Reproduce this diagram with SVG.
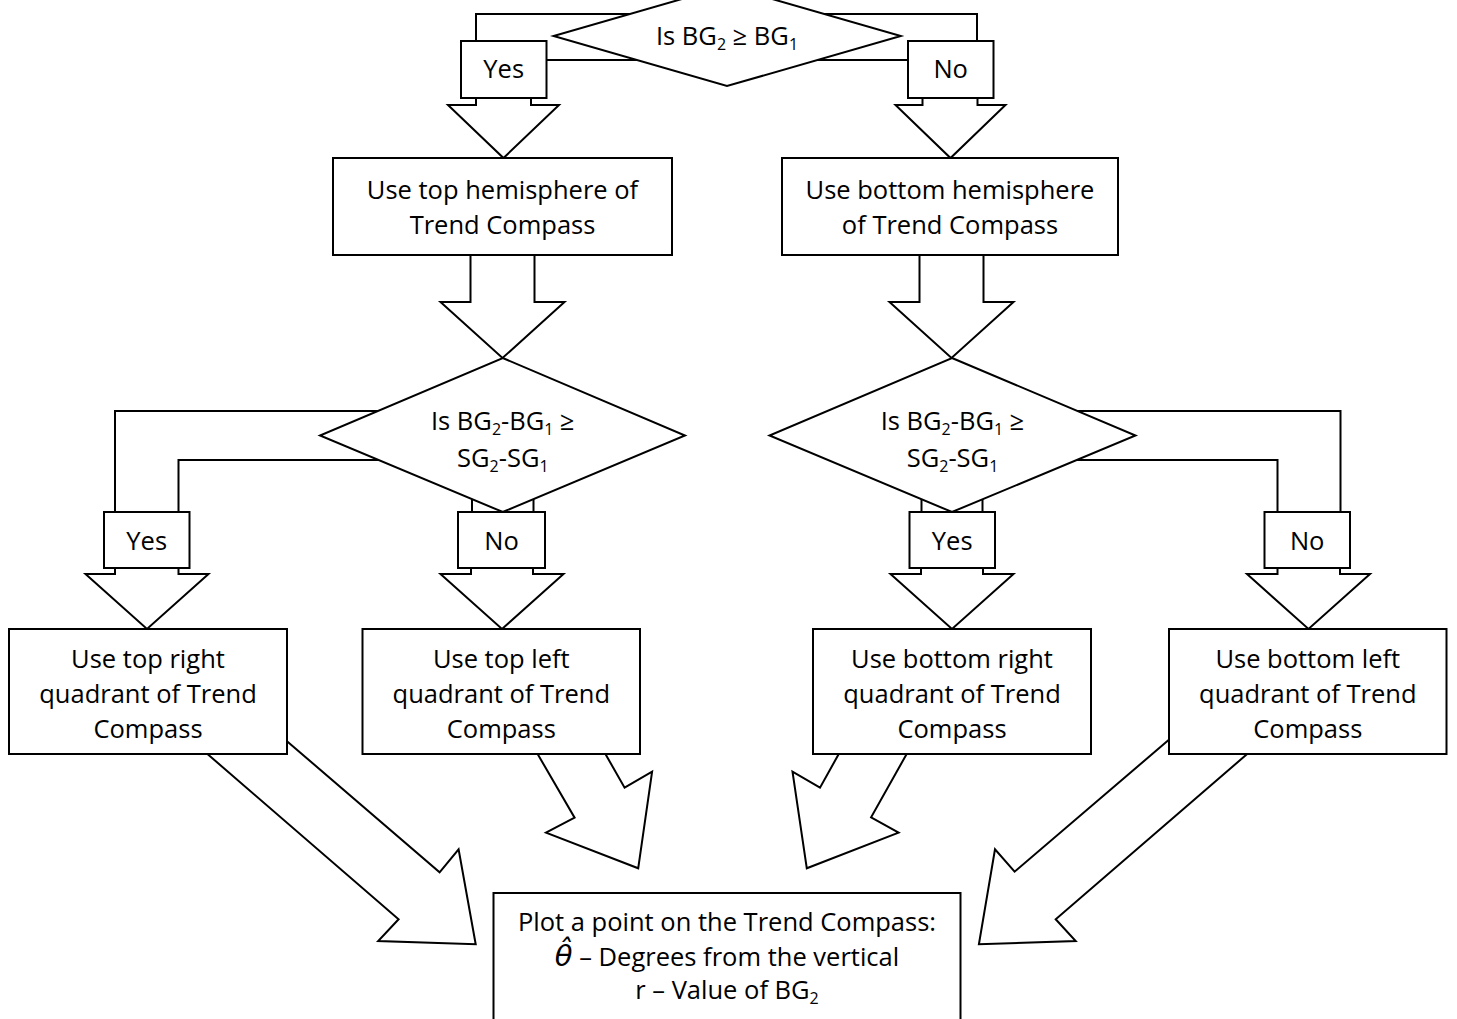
<svg xmlns="http://www.w3.org/2000/svg" width="1457" height="1019" viewBox="0 0 1457 1019">
<style>
.ln{fill:none;stroke:#000;stroke-width:2}
.ar{fill:#fff;stroke:#000;stroke-width:2;stroke-linejoin:miter}
.bx{fill:#fff;stroke:#000;stroke-width:2}
.t{font-family:'Open Sans','Liberation Sans',sans-serif;font-size:25.5px;fill:#000;text-anchor:middle}
.sub{font-size:16px}
.m{font-family:'DejaVu Sans','Liberation Serif',serif;font-style:italic;font-size:29px}
</style>
<rect width="1457" height="1019" fill="#fff"/>
<g id="connectors">
  <polyline class="ln" points="476,41 476,14 650,14"/>
  <line class="ln" x1="546.5" y1="60" x2="660" y2="60"/>
  <polyline class="ln" points="800,14 977,14 977,41"/>
  <line class="ln" x1="800" y1="60" x2="908" y2="60"/>
  <polygon class="ar" points="476,90 476,105 448,105 503.5,158 559,105 531,105 531,90"/>
  <polygon class="ar" points="922.5,90 922.5,105 895.5,105 950.5,158 1005.5,105 977.5,105 977.5,90"/>
  <polygon class="ar" points="470.5,250 470.5,302 440.5,302 502.5,358 564.5,302 534.5,302 534.5,250"/>
  <polygon class="ar" points="919.5,250 919.5,302 889.5,302 951.5,358 1013.5,302 983.5,302 983.5,250"/>
  <polyline class="ln" points="115,512 115,411 400,411"/>
  <polyline class="ln" points="178.5,512 178.5,460 400,460"/>
  <line class="ln" x1="472" y1="480" x2="472" y2="512"/>
  <line class="ln" x1="533.5" y1="480" x2="533.5" y2="512"/>
  <polygon class="ar" points="115,560 115,574 85.5,574 147,629 208.5,574 178.5,574 178.5,560"/>
  <polygon class="ar" points="471,560 471,574 440.5,574 502,629 563.5,574 533,574 533,560"/>
  <line class="ln" x1="921.5" y1="480" x2="921.5" y2="512"/>
  <line class="ln" x1="982.5" y1="480" x2="982.5" y2="512"/>
  <polyline class="ln" points="1050,411 1340.5,411 1340.5,512"/>
  <polyline class="ln" points="1050,460 1277.5,460 1277.5,512"/>
  <polygon class="ar" points="921,560 921,574 890.5,574 952,629 1013.5,574 983,574 983,560"/>
  <polygon class="ar" points="1277.5,560 1277.5,574 1247,574 1308.5,629 1370,574 1340,574 1340,560"/>
  <polygon class="ar" points="186,735.5 208.6,755 398.6,919.3 378.2,941 475.7,944.3 458.6,849.3 439.6,872.3 286.4,740.7 264,721"/>
  <polygon class="ar" points="528.2,737.7 538.2,755 574.6,817.7 546,832.7 638.2,868.3 652.1,771.7 624.6,787.7 606,755 596,737.7"/>
  <polygon class="ar" points="916,738 906.1,755 871.1,817.3 898.6,832.7 806.8,868.3 792.5,771.7 820,787.7 838.2,755 848,738"/>
  <polygon class="ar" points="1268.7,735.4 1246,755 1055.7,919.3 1075.7,941 978.9,944.3 995,849.3 1014.6,871.7 1168.6,740 1191.3,720.4"/>
</g>
<g id="decision-top">
  <polygon class="bx" points="727,-14 900.8,36 727,86 553.6,36"/>
  <text class="t" x="727" y="45">Is BG<tspan class="sub" dy="5">2</tspan><tspan dy="-5"> ≥ BG</tspan><tspan class="sub" dy="5">1</tspan></text>
</g>
<g id="label-yes-top">
  <rect class="bx" x="461" y="41" width="85.5" height="57"/>
  <text class="t" x="503.7" y="78">Yes</text>
</g>
<g id="label-no-top">
  <rect class="bx" x="908" y="41" width="85.5" height="57"/>
  <text class="t" x="950.7" y="78">No</text>
</g>
<g id="top-hemisphere">
  <rect class="bx" x="333" y="158" width="339" height="97"/>
  <text class="t" x="502.5" y="199">Use top hemisphere of</text>
  <text class="t" x="502.5" y="234">Trend Compass</text>
</g>
<g id="bottom-hemisphere">
  <rect class="bx" x="782" y="158" width="336" height="97"/>
  <text class="t" x="950" y="199">Use bottom hemisphere</text>
  <text class="t" x="950" y="234">of Trend Compass</text>
</g>
<g id="decision-left">
  <polygon class="bx" points="502.8,358 685,435.5 502.8,512 320,435.5"/>
  <text class="t" x="502.8" y="430">Is BG<tspan class="sub" dy="5">2</tspan><tspan dy="-5">-BG</tspan><tspan class="sub" dy="5">1</tspan><tspan dy="-5"> ≥</tspan></text>
  <text class="t" x="502.8" y="467">SG<tspan class="sub" dy="5">2</tspan><tspan dy="-5">-SG</tspan><tspan class="sub" dy="5">1</tspan></text>
</g>
<g id="decision-right">
  <polygon class="bx" points="952,358 1135.5,435.5 952,512 769.5,435.5"/>
  <text class="t" x="952.5" y="430">Is BG<tspan class="sub" dy="5">2</tspan><tspan dy="-5">-BG</tspan><tspan class="sub" dy="5">1</tspan><tspan dy="-5"> ≥</tspan></text>
  <text class="t" x="952.5" y="467">SG<tspan class="sub" dy="5">2</tspan><tspan dy="-5">-SG</tspan><tspan class="sub" dy="5">1</tspan></text>
</g>
<g id="label-yes-left">
  <rect class="bx" x="104" y="512" width="85.5" height="56"/>
  <text class="t" x="146.7" y="550">Yes</text>
</g>
<g id="label-no-left">
  <rect class="bx" x="458" y="512" width="87" height="56"/>
  <text class="t" x="501.5" y="550">No</text>
</g>
<g id="label-yes-right">
  <rect class="bx" x="909.5" y="512" width="85.5" height="56"/>
  <text class="t" x="952.2" y="550">Yes</text>
</g>
<g id="label-no-right">
  <rect class="bx" x="1264.5" y="512" width="85.5" height="56"/>
  <text class="t" x="1307.2" y="550">No</text>
</g>
<g id="top-right-quadrant">
  <rect class="bx" x="9" y="629" width="278" height="125"/>
  <text class="t" x="148" y="668">Use top right</text>
  <text class="t" x="148" y="703">quadrant of Trend</text>
  <text class="t" x="148" y="738">Compass</text>
</g>
<g id="top-left-quadrant">
  <rect class="bx" x="362.5" y="629" width="277.5" height="125"/>
  <text class="t" x="501.3" y="668">Use top left</text>
  <text class="t" x="501.3" y="703">quadrant of Trend</text>
  <text class="t" x="501.3" y="738">Compass</text>
</g>
<g id="bottom-right-quadrant">
  <rect class="bx" x="813" y="629" width="278" height="125"/>
  <text class="t" x="952" y="668">Use bottom right</text>
  <text class="t" x="952" y="703">quadrant of Trend</text>
  <text class="t" x="952" y="738">Compass</text>
</g>
<g id="bottom-left-quadrant">
  <rect class="bx" x="1169" y="629" width="277.5" height="125"/>
  <text class="t" x="1307.8" y="668">Use bottom left</text>
  <text class="t" x="1307.8" y="703">quadrant of Trend</text>
  <text class="t" x="1307.8" y="738">Compass</text>
</g>
<g id="plot-point">
  <rect class="bx" x="493.5" y="893" width="467" height="140"/>
  <text class="t" x="727" y="931">Plot a point on the Trend Compass:</text>
  <text class="t" x="727" y="965.5"><tspan class="m">θ̂</tspan> – Degrees from the vertical</text>
  <text class="t" x="727" y="999">r – Value of BG<tspan class="sub" dy="5">2</tspan></text>
</g>
</svg>
